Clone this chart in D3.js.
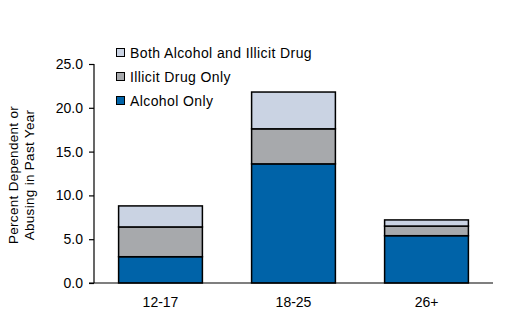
<!DOCTYPE html>
<html><head><meta charset="utf-8">
<script src="https://cdn.jsdelivr.net/npm/d3@7"></script>
<style>body{margin:0;background:#fff}svg{display:block}text{font-family:"Liberation Sans",Arial,sans-serif;fill:#000}</style>
</head><body><svg id="c" width="508" height="322"></svg>
<script>
const categories = ["12-17", "18-25", "26+"];
const alcoholOnly = [3.0, 13.6, 5.4];
const illicitOnly = [3.4, 4.0, 1.1];
const both = [2.4, 4.2, 0.7];
const seriesNames = ["Alcohol Only", "Illicit Drug Only", "Both Alcohol and Illicit Drug"];
const yTicks = [0, 5, 10, 15, 20, 25];
const colors = ["#0063A8", "#A7A9AC", "#CAD3E3"];

const svg = d3.select("#c");
const x = d3.scaleBand().domain(categories).range([94, 493]).paddingInner(0.37).paddingOuter(0.185);
const y = d3.scaleLinear().domain([0, 25]).range([283, 64]);

const rows = categories.map((c, i) => ({cat: c, a: alcoholOnly[i], b: illicitOnly[i], c: both[i]}));
const stack = d3.stack().keys(["a", "b", "c"])(rows);

svg.append("g").selectAll("g").data(stack).join("g")
  .attr("fill", (d, i) => colors[i])
  .selectAll("rect").data(d => d).join("rect")
  .attr("x", d => x(d.data.cat))
  .attr("width", x.bandwidth())
  .attr("y", d => y(d[1]))
  .attr("height", d => y(d[0]) - y(d[1]))
  .attr("stroke", "#000").attr("stroke-width", 1.5);

// y axis
const ya = svg.append("g").attr("transform", "translate(94,0)")
  .call(d3.axisLeft(y).tickValues(yTicks).tickFormat(d3.format(".1f")).tickSize(5).tickPadding(6));
ya.select(".domain").attr("stroke", "#000").attr("stroke-width", 1.2).attr("d", "M0,64V283");
ya.selectAll(".tick line").attr("stroke", "#000").attr("stroke-width", 1.2);
ya.selectAll("text").attr("font-size", 14).style("font-family", "Liberation Sans, Arial, sans-serif");

// x axis
const xa = svg.append("g").attr("transform", "translate(0,283)")
  .call(d3.axisBottom(x).tickSize(0).tickPadding(14));
xa.select(".domain").attr("stroke", "#000").attr("stroke-width", 1.2).attr("d", "M89,0H493");
xa.selectAll("text").attr("font-size", 14).style("font-family", "Liberation Sans, Arial, sans-serif");

// y title
const yt = svg.append("text").attr("transform", "translate(18,175) rotate(-90)")
  .attr("text-anchor", "middle").attr("font-size", 13.5).style("letter-spacing", "0.3px");
yt.append("tspan").attr("x", 0).attr("dy", 0).text("Percent Dependent or");
yt.append("tspan").attr("x", 0).attr("dy", 16).text("Abusing in Past Year");

// legend (top to bottom: Both, Illicit, Alcohol)
const legOrder = [2, 1, 0];
const lg = svg.append("g");
legOrder.forEach((si, k) => {
  const yy = 53 + k * 24;
  lg.append("rect").attr("x", 116.5).attr("y", yy - 4.5).attr("width", 8).attr("height", 8)
    .attr("fill", colors[si]).attr("stroke", "#000").attr("stroke-width", 1);
  lg.append("text").attr("x", 130).attr("y", yy + 5).attr("font-size", 14)
    .style("letter-spacing", "0.4px").text(seriesNames[si]);
});
</script></body></html>
